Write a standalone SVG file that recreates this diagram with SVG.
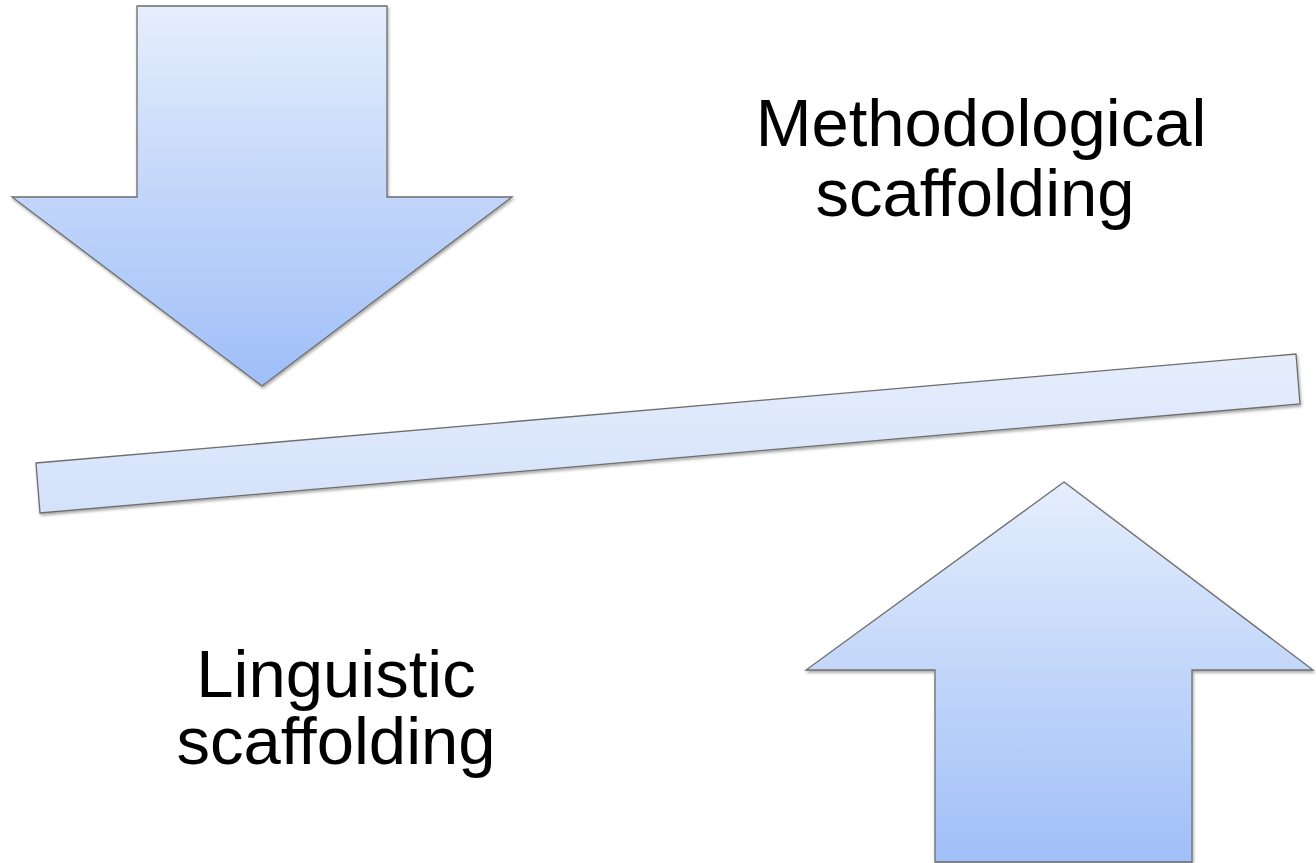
<svg xmlns="http://www.w3.org/2000/svg" width="1316" height="863" viewBox="0 0 1316 863">
<defs>
<linearGradient id="gDown" x1="0" y1="0" x2="0" y2="1">
<stop offset="0" stop-color="#e5eefc"/>
<stop offset="1" stop-color="#9fbef8"/>
</linearGradient>
<linearGradient id="gUp" x1="0" y1="0" x2="0" y2="1">
<stop offset="0" stop-color="#e5eefc"/>
<stop offset="1" stop-color="#a0bff8"/>
</linearGradient>
<linearGradient id="gBar" x1="0" y1="0" x2="0" y2="1">
<stop offset="0" stop-color="#e6eefc"/>
<stop offset="1" stop-color="#d3e1fa"/>
</linearGradient>
<filter id="sh" x="-10%" y="-10%" width="120%" height="120%">
<feDropShadow dx="1" dy="2" stdDeviation="1.5" flood-color="#000" flood-opacity="0.35"/>
</filter>
</defs>
<style>
.shape{stroke:#6e6e6e;stroke-width:1.3;stroke-linejoin:miter;filter:url(#sh)}
.lbl{font-family:"Liberation Sans",Arial,sans-serif;font-size:67px;fill:#000;text-anchor:middle}
</style>
<rect width="1316" height="863" fill="#fff"/>
<g id="arrow-down">
<polygon class="shape" fill="url(#gDown)" points="137,6 387,6 387,197 512,197 262,386 12,197 137,197"/>
</g>
<g id="bar">
<polygon class="shape" fill="url(#gBar)" points="36,463 1296,354 1300,404 40,513"/>
</g>
<g id="arrow-up">
<polygon class="shape" fill="url(#gUp)" points="1064,482 1313,670 1192,670 1192,862 935,862 935,670 806,670"/>
</g>
<g id="label-methodological">
<text class="lbl" x="981" y="146">Methodological</text>
<text class="lbl" x="975" y="216">scaffolding</text>
</g>
<g id="label-linguistic">
<text class="lbl" x="336" y="697">Linguistic</text>
<text class="lbl" x="336" y="764">scaffolding</text>
</g>
<g id="connectors"></g>
</svg>
